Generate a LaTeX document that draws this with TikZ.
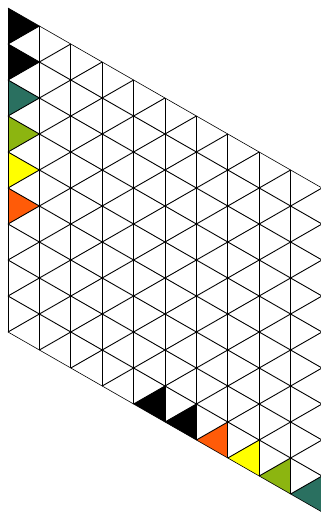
\documentclass[tikz,border=0pt]{standalone}
\definecolor{tealc}{RGB}{42,112,96}
\definecolor{olivec}{RGB}{140,181,16}
\definecolor{orangec}{RGB}{255,91,8}
\definecolor{yellowc}{RGB}{255,255,0}
\begin{document}
\begin{tikzpicture}[x=1pt,y=-1pt,
  gridline/.style={line width=0.9pt, black},
  edgeline/.style={line width=0.6pt, black}]
\useasboundingbox (0,0) rectangle (321,514);
\fill[white] (0,0) rectangle (321,514);
% lattice points
\foreach \k in {0,...,10}
  \foreach \j in {0,...,9}
    \coordinate (L-\k-\j) at ({8+31.4*\k},{8+18*\k+36*\j});
% coloured triangles, left column (right-pointing)
\foreach \j/\c in {0/black,1/black,2/tealc,3/olivec,4/yellowc,5/orangec}{
  \pgfmathtruncatemacro\jn{\j+1}
  \fill[\c] (L-0-\j) -- (L-0-\jn) -- (L-1-\j) -- cycle;
}
% coloured triangles, bottom row (left-pointing)
\foreach \k/\c in {4/black,5/black,6/orangec,7/yellowc,8/olivec,9/tealc}{
  \pgfmathtruncatemacro\kn{\k+1}
  \fill[\c] (L-\kn-8) -- (L-\kn-9) -- (L-\k-9) -- cycle;
}
% vertical lines
\foreach \k in {1,...,9}
  \draw[gridline] (L-\k-0) -- (L-\k-9);
\draw[edgeline] (L-0-0) -- (L-0-9);
\draw[edgeline] (L-10-0) -- (L-10-9);
% down-right lines
\foreach \j in {1,...,8}
  \draw[gridline] (L-0-\j) -- (L-10-\j);
\draw[edgeline] (L-0-0) -- (L-10-0);
\draw[edgeline] (L-0-9) -- (L-10-9);
% up-right lines
\foreach \m in {1,...,18}{
  \pgfmathtruncatemacro\ka{max(0,\m-9)}
  \pgfmathtruncatemacro\kb{min(10,\m)}
  \pgfmathtruncatemacro\ja{\m-\ka}
  \pgfmathtruncatemacro\jb{\m-\kb}
  \draw[gridline] (L-\ka-\ja) -- (L-\kb-\jb);
}
\end{tikzpicture}
\end{document}
